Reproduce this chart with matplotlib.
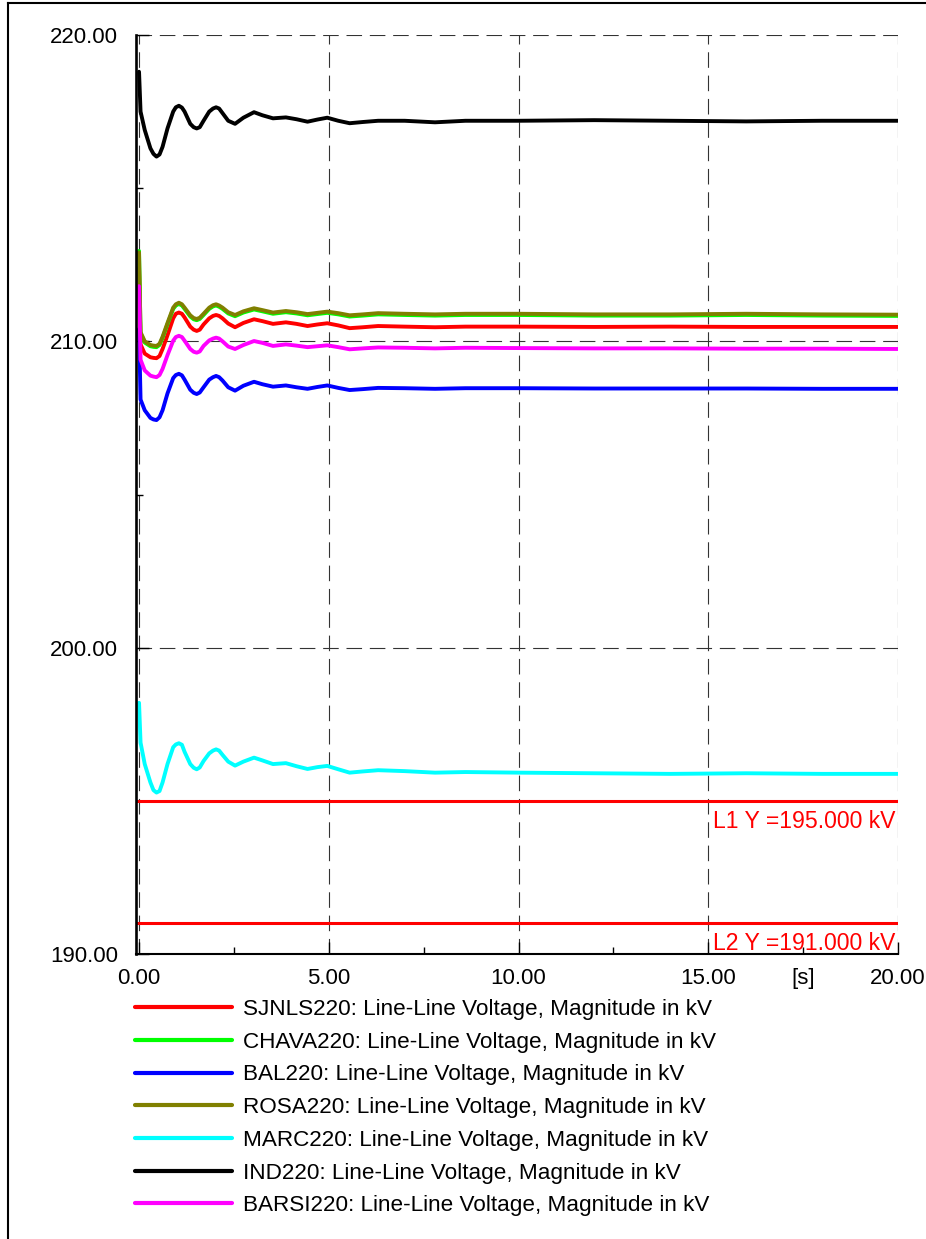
import matplotlib
matplotlib.use('Agg')
import matplotlib.pyplot as plt
from matplotlib.ticker import MultipleLocator, FixedLocator, FixedFormatter
from matplotlib.lines import Line2D

plt.rcParams['font.family'] = ['Liberation Sans', 'DejaVu Sans']

# time axis [s]
t_s = [0, 0.04, 0.15, 0.3, 0.38, 0.46, 0.54, 0.62, 0.75, 0.9, 0.97, 1.05, 1.13, 1.2,
       1.35, 1.44, 1.52, 1.6, 1.7, 1.85, 1.95, 2.03, 2.11, 2.2,
       2.35, 2.53, 2.75, 3.03, 3.25, 3.53, 3.87, 4.15, 4.44, 4.7, 4.96,
       5.25, 5.55, 5.9, 6.3, 7.0, 7.8, 8.6, 10, 12, 14, 16, 18, 20]

# line-line voltages [kV]
sjnls = [212.4, 209.9, 209.6, 209.48, 209.46, 209.45, 209.52, 209.75,
         210.2, 210.75, 210.9, 210.94, 210.9, 210.78, 210.48, 210.38, 210.34, 210.38,
         210.55, 210.75, 210.83, 210.86, 210.83, 210.75,
         210.58, 210.46, 210.6, 210.72, 210.66, 210.57, 210.62, 210.57, 210.50, 210.55,
         210.59, 210.52, 210.43, 210.46, 210.5, 210.48, 210.46, 210.48, 210.48, 210.47,
         210.48, 210.47, 210.47, 210.47]
chava = [212.95, 210.26, 209.96, 209.84, 209.82, 209.81, 209.88, 210.11,
         210.56, 211.06, 211.17, 211.22, 211.17, 211.06, 210.81, 210.72, 210.69, 210.73,
         210.86, 211.06, 211.14, 211.17, 211.13, 211.06,
         210.91, 210.82, 210.94, 211.04, 210.98, 210.90, 210.95, 210.91, 210.85, 210.89,
         210.93, 210.88, 210.81, 210.84, 210.88, 210.86, 210.84, 210.86, 210.86, 210.84,
         210.84, 210.86, 210.84, 210.83]
bal = [210.4, 208.1, 207.75, 207.5, 207.45, 207.43, 207.52, 207.75,
       208.3, 208.8, 208.9, 208.94, 208.89, 208.75, 208.42, 208.32, 208.28, 208.33,
       208.5, 208.75, 208.83, 208.87, 208.83, 208.72,
       208.5, 208.39, 208.55, 208.68, 208.6, 208.52, 208.56, 208.5, 208.45, 208.51,
       208.56, 208.48, 208.41, 208.44, 208.48, 208.47, 208.45, 208.47, 208.47, 208.46,
       208.46, 208.46, 208.45, 208.45]
rosa = [212.9, 210.3, 210.0, 209.88, 209.86, 209.85, 209.92, 210.15,
        210.6, 211.1, 211.21, 211.26, 211.21, 211.1, 210.85, 210.76, 210.73, 210.77,
        210.9, 211.1, 211.18, 211.21, 211.17, 211.1,
        210.95, 210.86, 210.98, 211.08, 211.02, 210.94, 210.99, 210.95, 210.89, 210.93,
        210.97, 210.92, 210.85, 210.88, 210.92, 210.9, 210.88, 210.9, 210.9, 210.88,
        210.88, 210.9, 210.88, 210.87]
marc = [198.2, 196.9, 196.2, 195.6, 195.35, 195.27, 195.32, 195.6,
        196.2, 196.75, 196.84, 196.88, 196.83, 196.6, 196.2, 196.08, 196.03, 196.09,
        196.3, 196.55, 196.64, 196.68, 196.64, 196.5,
        196.28, 196.15, 196.28, 196.41, 196.32, 196.2, 196.23, 196.13, 196.04, 196.1,
        196.14, 196.03, 195.92, 195.96, 196.0, 195.97, 195.92, 195.94, 195.92, 195.9,
        195.88, 195.9, 195.88, 195.88]
ind = [218.8, 217.5, 216.9, 216.3, 216.12, 216.03, 216.1, 216.35,
       216.95, 217.5, 217.64, 217.69, 217.63, 217.5, 217.1, 216.99, 216.95, 216.99,
       217.2, 217.5, 217.6, 217.64, 217.6, 217.45,
       217.2, 217.10, 217.3, 217.48, 217.38, 217.28, 217.31, 217.25, 217.17, 217.24,
       217.30, 217.2, 217.12, 217.16, 217.2, 217.2, 217.15, 217.2, 217.2, 217.22,
       217.2, 217.18, 217.2, 217.2]
barsi = [211.8, 209.4, 209.05, 208.88, 208.85, 208.83, 208.9, 209.1,
         209.55, 210.02, 210.14, 210.18, 210.14, 210.02, 209.75, 209.66, 209.63, 209.67,
         209.85, 210.03, 210.09, 210.12, 210.09, 210.0,
         209.83, 209.75, 209.88, 210.01, 209.95, 209.85, 209.9, 209.86, 209.81, 209.84,
         209.87, 209.81, 209.74, 209.77, 209.8, 209.79, 209.77, 209.79, 209.78, 209.77,
         209.77, 209.76, 209.76, 209.75]

names = ['SJNLS220', 'CHAVA220', 'BAL220', 'ROSA220', 'MARC220', 'IND220', 'BARSI220']
colors = ['#ff0000', '#00ff00', '#0000ff', '#808000', '#00ffff', '#000000', '#ff00ff']
series = [sjnls, chava, bal, rosa, marc, ind, barsi]

limit_vals = [195.0, 191.0]
limit_names = ['L1', 'L2']

fig = plt.figure(figsize=(9.26, 12.39), dpi=100)
ax = fig.add_axes([136 / 926, 1 - 954 / 1239, (898 - 136) / 926, (954 - 35) / 1239])

handles = []
for name, col, v in zip(names, colors, series):
    h, = ax.plot(t_s, v, color=col, lw=2.8, solid_capstyle='round',
                 solid_joinstyle='round',
                 label=name + ': Line-Line Voltage, Magnitude in kV')
    handles.append(h)

for nm, lv in zip(limit_names, limit_vals):
    ax.axhline(lv, color='#ff0000', lw=2.2)
    ax.annotate('%s Y =%.3f kV' % (nm, lv), xy=(20, lv), xytext=(-2, -6.5),
                textcoords='offset points', ha='right', va='top',
                color='#ff0000', fontsize=16.6)

ax.set_xlim(-0.08, 20)
ax.set_ylim(190, 220)

ax.xaxis.set_major_locator(FixedLocator([0, 5, 10, 15, 20]))
ax.xaxis.set_major_formatter(FixedFormatter(['0.00', '5.00', '10.00', '15.00', '20.00']))
ax.xaxis.set_minor_locator(FixedLocator([2.5, 7.5, 12.5, 17.5]))
ax.xaxis.set_minor_formatter(FixedFormatter(['', '', '', '[s]']))
ax.yaxis.set_major_locator(MultipleLocator(10))
ax.yaxis.set_major_formatter(plt.FormatStrFormatter('%.2f'))
ax.yaxis.set_minor_locator(MultipleLocator(5))

ax.grid(True, which='major', color='#333333', lw=0.8, linestyle=(0, (14, 7)))
ax.set_axisbelow(True)

for s in ['top', 'right']:
    ax.spines[s].set_visible(False)
ax.spines['left'].set_linewidth(1.9)
ax.spines['bottom'].set_linewidth(1.5)

ax.tick_params(axis='both', which='both', direction='in', labelsize=16, colors='black')
ax.tick_params(axis='y', which='major', length=9, width=1, pad=13)
ax.tick_params(axis='y', which='minor', length=5, width=1)
ax.tick_params(axis='x', which='major', length=9, width=1, pad=10)
ax.tick_params(axis='x', which='minor', length=5, width=1, pad=10)

fig.legend(handles=handles, loc='upper left',
           bbox_to_anchor=(135 / 926, 1 - 999 / 1239), frameon=False,
           fontsize=16.2, handlelength=4.3, handletextpad=0.5, labelspacing=0.52,
           borderpad=0, borderaxespad=0)
for lh in fig.legends[0].get_lines():
    lh.set_linewidth(3)

# outer frame
fig.add_artist(Line2D([8 / 926, 8 / 926], [0, 1 - 3 / 1239], color='black', lw=1.5))
fig.add_artist(Line2D([8 / 926, 1], [1 - 3 / 1239, 1 - 3 / 1239], color='black', lw=1.5))

fig.savefig('out.png', dpi=100)
